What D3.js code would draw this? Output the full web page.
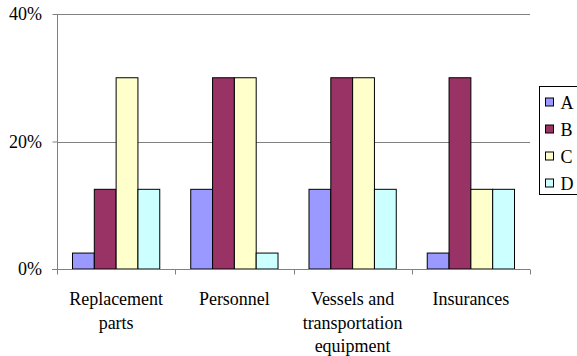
<!DOCTYPE html>
<html>
<head>
<meta charset="utf-8">
<script src="https://cdn.jsdelivr.net/npm/d3@7/dist/d3.min.js"></script>
<style>
  html, body { margin: 0; padding: 0; background: #fff; }
  svg { display: block; }
</style>
</head>
<body>
<svg id="chart" width="577" height="356"></svg>
<script>
// Categories and series (values in percent)
const categories = [["Replacement", "parts"], ["Personnel"], ["Vessels and", "transportation", "equipment"], ["Insurances"]];
const seriesNames = ["A", "B", "C", "D"];
const seriesA = [2.5, 12.5, 12.5, 2.5];
const seriesB = [12.5, 30, 30, 30];
const seriesC = [30, 30, 30, 12.5];
const seriesD = [12.5, 2.5, 12.5, 12.5];
const seriesColors = ["#9999FF", "#993366", "#FFFFCC", "#CCFFFF"];
const yTicks = [0, 20, 40];

const allSeries = [seriesA, seriesB, seriesC, seriesD];
const serif = "'Liberation Serif'";

const svg = d3.select("#chart");
const plot = { left: 57, right: 530, top: 14, bottom: 269 };
const fontSize = "18px";

const x = d3.scaleBand()
  .domain(d3.range(categories.length))
  .range([plot.left, plot.right])
  .paddingInner(0).paddingOuter(0);

const inner = d3.scaleBand()
  .domain(seriesNames)
  .range([0, x.bandwidth()])
  .paddingInner(0).paddingOuter(0.71);

const y = d3.scaleLinear().domain([0, 40]).range([plot.bottom, plot.top]);

// Gridlines
svg.append("g")
  .selectAll("line")
  .data(yTicks.filter(d => d > 0))
  .join("line")
  .attr("x1", plot.left).attr("x2", plot.right)
  .attr("y1", d => Math.round(y(d)) + 0.5).attr("y2", d => Math.round(y(d)) + 0.5)
  .attr("stroke", "#808080").attr("stroke-width", 1);

// Bars
const groups = svg.append("g")
  .selectAll("g")
  .data(categories.map((c, i) => i))
  .join("g")
  .attr("transform", i => `translate(${x(i)},0)`);

groups.selectAll("rect")
  .data(i => seriesNames.map((s, k) => ({ s, k, v: allSeries[k][i] })))
  .join("rect")
  .attr("x", d => inner(d.s))
  .attr("width", inner.bandwidth())
  .attr("y", d => y(d.v))
  .attr("height", d => y(0) - y(d.v))
  .attr("fill", d => seriesColors[d.k])
  .attr("stroke", "#000").attr("stroke-width", 1);

// Y axis (tick marks and line only; labels drawn below)
const yAxis = svg.append("g")
  .attr("transform", `translate(${plot.left + 0.5},0)`)
  .call(d3.axisLeft(y).tickValues(yTicks).tickFormat("").tickSize(5));
yAxis.select(".domain").attr("stroke", "#808080").attr("d", `M0,${plot.top}V${plot.bottom}`);
yAxis.selectAll(".tick line").attr("stroke", "#808080");

svg.append("g").selectAll("text")
  .data(yTicks)
  .join("text")
  .attr("x", plot.left - 15)
  .attr("y", d => y(d) + 6)
  .attr("text-anchor", "end")
  .attr("fill", "#000")
  .style("font-family", serif)
  .style("font-size", fontSize)
  .text(d => d + "%");

// X axis
const xAxis = svg.append("g")
  .attr("transform", `translate(0,${plot.bottom + 0.5})`);
xAxis.append("line")
  .attr("x1", plot.left - 5).attr("x2", plot.right)
  .attr("stroke", "#808080");
xAxis.selectAll("line.tick")
  .data(d3.range(categories.length + 1))
  .join("line")
  .attr("class", "tick")
  .attr("x1", i => Math.round(plot.left + i * x.bandwidth()) + 0.5)
  .attr("x2", i => Math.round(plot.left + i * x.bandwidth()) + 0.5)
  .attr("y1", 0).attr("y2", 5)
  .attr("stroke", "#808080");

categories.forEach((lines, i) => {
  lines.forEach((line, j) => {
    svg.append("text")
      .attr("x", x(i) + x.bandwidth() / 2)
      .attr("y", plot.bottom + 36 + j * 23.5)
      .attr("text-anchor", "middle")
      .attr("fill", "#000")
      .style("font-family", serif)
      .style("font-size", fontSize)
      .text(line);
  });
});

// Legend
const legend = svg.append("g").attr("transform", "translate(539.5,86.5)");
legend.append("rect")
  .attr("width", 45).attr("height", 108)
  .attr("fill", "#fff").attr("stroke", "#000");
const items = legend.selectAll("g")
  .data(seriesNames)
  .join("g")
  .attr("transform", (d, i) => `translate(6,${16 + i * 27})`);
items.append("rect")
  .attr("x", 0).attr("y", -4.5).attr("width", 8).attr("height", 8)
  .attr("fill", (d, i) => seriesColors[i]).attr("stroke", "#000");
items.append("text")
  .attr("x", 15).attr("y", 6)
  .style("font-family", serif)
  .style("font-size", fontSize)
  .text(d => d);
</script>
</body>
</html>
